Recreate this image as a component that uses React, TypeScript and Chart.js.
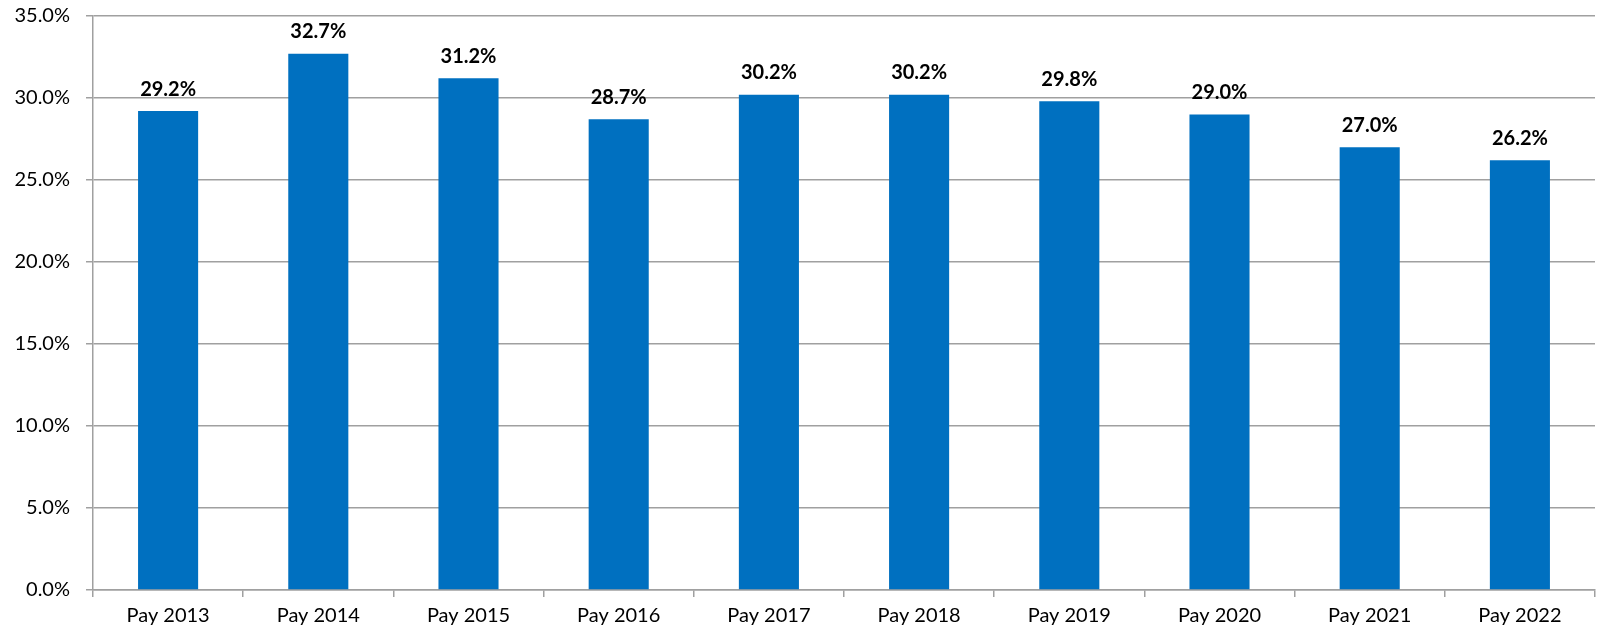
import React, { useEffect, useRef } from "react";
import { Chart, registerables } from "chart.js";

Chart.register(...registerables);

const categories = ["Pay 2013", "Pay 2014", "Pay 2015", "Pay 2016", "Pay 2017", "Pay 2018", "Pay 2019", "Pay 2020", "Pay 2021", "Pay 2022"];
const values = [29.2, 32.7, 31.2, 28.7, 30.2, 30.2, 29.8, 29.0, 27.0, 26.2];
const yMin = 0;
const yMax = 35;
const yStep = 5;

const FONT = "Lato, 'Noto Sans', sans-serif";

const labelPlugin = {
  id: "barLabels",
  afterDatasetsDraw(chart: any) {
    const ctx = chart.ctx;
    const meta = chart.getDatasetMeta(0);
    ctx.save();
    ctx.font = `bold 20px ${FONT}`;
    ctx.fillStyle = "#000000";
    ctx.textAlign = "center";
    ctx.textBaseline = "middle";
    meta.data.forEach((bar: any, i: number) => {
      ctx.fillText(values[i].toFixed(1) + "%", bar.x, bar.y - 22);
    });
    ctx.restore();
  },
};

export default function App() {
  const ref = useRef<HTMLCanvasElement | null>(null);
  useEffect(() => {
    document.body.style.margin = "0";
    if (!ref.current) return;
    const chart = new Chart(ref.current, {
      type: "bar",
      data: {
        labels: categories,
        datasets: [
          {
            data: values,
            backgroundColor: "#0070C0",
            barPercentage: 0.4,
            categoryPercentage: 1.0,
          },
        ],
      },
      options: {
        animation: false,
        responsive: false,
        maintainAspectRatio: false,
        layout: { padding: { top: 16, right: 4, left: 0, bottom: 0 } },
        plugins: { legend: { display: false }, tooltip: { enabled: false } },
        scales: {
          x: {
            grid: {
              display: true,
              drawOnChartArea: false,
              drawTicks: true,
              tickLength: 7,
              color: "#A0A0A0",
              lineWidth: 1.5,
            },
            border: { display: true, color: "#A0A0A0", width: 1.5 },
            ticks: { color: "#000000", font: { family: FONT, size: 20 }, padding: 7 },
            afterFit(scale: any) {
              scale.height = 43;
              scale.paddingLeft = 0;
              scale.paddingRight = 0;
            },
          },
          y: {
            min: yMin,
            max: yMax,
            grid: { color: "#A0A0A0", lineWidth: 1.5, tickLength: 7 },
            border: { display: true, color: "#A0A0A0", width: 1.5 },
            ticks: {
              stepSize: yStep,
              color: "#000000",
              padding: 16,
              font: { family: FONT, size: 20 },
              callback: (v: any) => Number(v).toFixed(1) + "%",
            },
            afterFit(scale: any) {
              scale.width = 93;
              scale.paddingTop = 0;
              scale.paddingBottom = 0;
            },
          },
        },
      },
      plugins: [labelPlugin],
    });
    return () => chart.destroy();
  }, []);
  return (
    <div style={{ width: 1599, height: 633 }}>
      <canvas ref={ref} width={1599} height={633} style={{ display: "block" }} />
    </div>
  );
}
